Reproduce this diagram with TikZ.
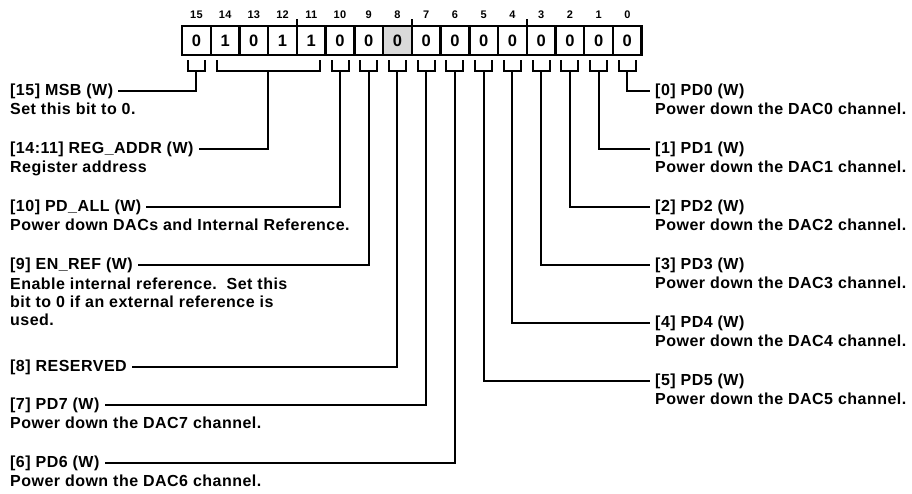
\documentclass[tikz,border=0pt]{standalone}
\usepackage{fontspec}
\setmainfont{Liberation Sans}[LetterSpace=3]
\usetikzlibrary{calc, positioning}

\tikzset{
  bitbox/.style={draw, line width=2.4pt, minimum width=28.73pt, minimum height=29pt,
    inner sep=0pt, outer sep=0pt, font=\fontsize{16.5}{16.5}\selectfont\bfseries},
  bitnum/.style={inner sep=0pt, font=\fontsize{11}{11}\selectfont\bfseries},
  brk/.style={line width=2pt},
  lead/.style={line width=2pt, shorten >=5pt},
  hdr/.style={anchor=west, inner sep=0pt, font=\fontsize{16}{18}\selectfont\bfseries},
  desc/.style={anchor=west, inner sep=0pt, align=left, font=\fontsize{16}{18}\selectfont\bfseries}
}

\begin{document}
\begin{tikzpicture}[x=1pt, y=-1pt]
\useasboundingbox (0,0) rectangle (912,493);
\def\bx{182}
\def\bw{28.73}
\def\by{40.5}

\foreach \b/\v/\f in {15/0/white, 14/1/white, 13/0/white, 12/1/white, 11/1/white,
    10/0/white, 9/0/white, 8/0/black!15, 7/0/white, 6/0/white, 5/0/white,
    4/0/white, 3/0/white, 2/0/white, 1/0/white, 0/0/white} {
  \pgfmathsetmacro{\cx}{\bx+(15.5-\b)*\bw}
  \node[bitbox, fill=\f] (box\b) at (\cx,\by) {\v};
  \node[bitnum] (num\b) at (\cx,15) {\b};
}

\foreach \b in {12,8,4}
  \draw[line width=1.5pt] (box\b.north east) -- ++(0,-7);

\foreach \b in {15,10,9,8,7,6,5,4,3,2,1,0} {
  \draw[brk] ($(box\b.south)+(-8.5,5)$) -- ++(0,11) -- ++(17,0) -- ++(0,-11);
  \coordinate (st\b) at ($(box\b.south)+(0,16)$);
}
\draw[brk] ($(box14.south west)+(6,5)$) -- ++(0,11) -| ($(box11.south east)+(-6,5)$);
\coordinate (st14) at ($(box14.south west)!0.5!(box11.south east)+(0,16)$);

\node[hdr] (h15) at (10,91) {[15] MSB (W)};
\node[desc] (d15) at (10,109) {Set this bit to 0.};
\node[hdr] (h14) at (10,149) {[14:11] REG\_ADDR (W)};
\node[desc] (d14) at (10,168) {Register address};
\node[hdr] (h10) at (10,207) {[10] PD\_ALL (W)};
\node[desc] (d10) at (10,225) {Power down DACs and Internal Reference.};
\node[hdr] (h9) at (10,265) {[9] EN\_REF (W)};
\node[desc] (d9) at (10,302) {Enable internal reference.\ \ Set this\\bit to 0 if an external reference is\\used.};
\node[hdr] (h8) at (10,367) {[8] RESERVED};
\node[hdr] (h7) at (10,405) {[7] PD7 (W)};
\node[desc] (d7) at (10,423) {Power down the DAC7 channel.};
\node[hdr] (h6) at (10,463) {[6] PD6 (W)};
\node[desc] (d6) at (10,481) {Power down the DAC6 channel.};

\foreach \b in {15,14,10,9,8,7,6}
  \draw[lead] (st\b) |- (h\b.east);

\foreach \b/\y in {0/91, 1/149, 2/207, 3/265, 4/323, 5/381} {
  \node[hdr] (h\b) at (655,\y) {[\b] PD\b{} (W)};
  \node[desc] (d\b) at (655,\y+18) {Power down the DAC\b{} channel.};
  \draw[lead] (st\b) |- (h\b.west);
}
\end{tikzpicture}
\end{document}
